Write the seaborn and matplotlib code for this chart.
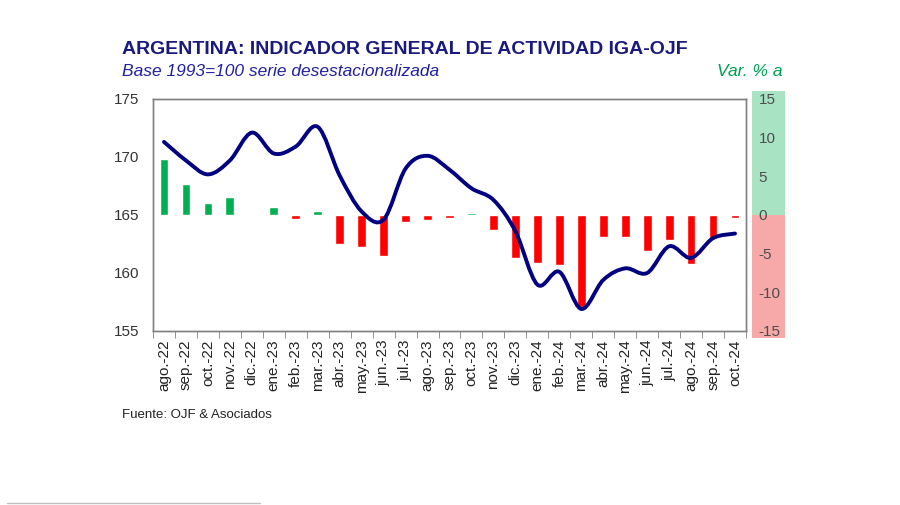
"""IGA-OJF: nivel desestacionalizado (línea) y variación anual (barras)."""

import matplotlib

matplotlib.use("Agg")
import matplotlib.pyplot as plt
import numpy as np
import pandas as pd
import seaborn as sns
from matplotlib.patches import PathPatch, Rectangle
from matplotlib.path import Path

MESES = [
    "ago.-22", "sep.-22", "oct.-22", "nov.-22", "dic.-22", "ene.-23", "feb.-23",
    "mar.-23", "abr.-23", "may.-23", "jun.-23", "jul.-23", "ago.-23", "sep.-23",
    "oct.-23", "nov.-23", "dic.-23", "ene.-24", "feb.-24", "mar.-24", "abr.-24",
    "may.-24", "jun.-24", "jul.-24", "ago.-24", "sep.-24", "oct.-24",
]
IGA = [
    171.3, 169.7, 168.5, 169.7, 172.1, 170.3, 170.9, 172.6, 168.4, 165.3,
    164.6, 169.0, 170.1, 168.9, 167.3, 166.3, 163.6, 159.0, 160.1, 156.9,
    159.4, 160.4, 160.0, 162.3, 161.3, 163.0, 163.4,
]
VAR_ANUAL = [
    7.2, 4.0, 1.6, 2.3, -0.1, 1.0, -0.5, 0.5, -3.8, -4.2, -5.3, -0.9, -0.6,
    -0.4, 0.3, -1.9, -5.6, -6.2, -6.5, -11.9, -2.8, -2.9, -4.6, -3.2, -6.4,
    -3.0, -0.4,
]

VERDE = "#00B050"
ROJO = "#FF0000"
AZUL = "#000080"
GRIS = "#808080"


def _curva_suave(xs, ys):
    """Path Bézier tipo Catmull-Rom (línea suavizada estilo Excel)."""
    pts = np.column_stack([xs, ys]).astype(float)
    ext = np.vstack([pts[0], pts, pts[-1]])
    verts = [pts[0]]
    codes = [Path.MOVETO]
    for i in range(1, len(ext) - 2):
        p0, p1, p2, p3 = ext[i - 1], ext[i], ext[i + 1], ext[i + 2]
        verts += [p1 + (p2 - p0) / 6, p2 - (p3 - p1) / 6, p2]
        codes += [Path.CURVE4] * 3
    return Path(verts, codes)


df = pd.DataFrame({"mes": MESES, "iga": IGA, "var": VAR_ANUAL})
df["signo"] = np.where(df["var"] >= 0, "pos", "neg")

sns.set_style("white")
plt.rcParams["font.family"] = ["Liberation Sans", "DejaVu Sans"]
plt.rcParams["axes.unicode_minus"] = False

fig = plt.figure(figsize=(9, 5.05), dpi=100)

# franja de colores del eje derecho (debajo de todo)
fig.patches.append(Rectangle((0.8356, 0.5743), 0.0367, 0.2455, transform=fig.transFigure,
                             facecolor="#a8e4c4", edgecolor="none", zorder=-5))
fig.patches.append(Rectangle((0.8356, 0.3307), 0.0367, 0.2436, transform=fig.transFigure,
                             facecolor="#f7a8a8", edgecolor="none", zorder=-5))

ax_bar = fig.add_axes([0.17, 0.3446, 0.6589, 0.4594])
ax_bar.patch.set_alpha(0)

sns.barplot(
    data=df, x="mes", y="var", hue="signo", palette={"pos": VERDE, "neg": ROJO},
    dodge=False, legend=False, width=0.4, ax=ax_bar, saturation=1,
)
ax_bar.set_xlim(-0.5, len(MESES) - 0.5)
ax_bar.set_xlabel("")
ax_bar.set_ylabel("")

# línea IGA en eje izquierdo
ax_line = ax_bar.twinx()
ax_line.yaxis.tick_left()
ax_line.set_ylim(155, 175)
ax_line.set_yticks(range(155, 176, 5))
ax_line.tick_params(axis="y", length=0, pad=10, labelsize=11, labelcolor="#333333")
curva = _curva_suave(np.arange(len(df)), df["iga"].to_numpy())
ax_line.add_patch(PathPatch(curva, fill=False, edgecolor=AZUL, lw=2.8, capstyle="round"))

# eje derecho (variación anual) -- después de twinx, que lo resetea
ax_bar.yaxis.tick_right()
ax_bar.set_ylim(-15, 15)
ax_bar.set_yticks(range(-15, 16, 5))
ax_bar.tick_params(axis="y", length=0, pad=9, labelsize=11, labelcolor="#4d4d4d",
                   left=False, labelleft=False, right=False, labelright=True)

# eje x: etiquetas centradas, marcas en los bordes de categoría
ax_bar.set_xticks(range(len(MESES)))
ax_bar.set_xticklabels(MESES, rotation=90, fontsize=11, color="#222222")
ax_bar.tick_params(axis="x", length=0, pad=6)
ax_bar.set_xticks(np.arange(-0.5, len(MESES)), minor=True)
ax_bar.tick_params(axis="x", which="minor", length=5, color=GRIS, bottom=True)

for ax in (ax_bar, ax_line):
    for sp in ax.spines.values():
        sp.set_color(GRIS)
        sp.set_linewidth(1.0)

# textos
fig.text(0.1356, 0.893, "ARGENTINA: INDICADOR GENERAL DE ACTIVIDAD IGA-OJF",
         fontsize=14, fontweight="bold", color="#1a1a7e", va="baseline")
fig.text(0.1356, 0.8495, "Base 1993=100 serie desestacionalizada", fontsize=12.5,
         style="italic", color="#2020a0", va="baseline")
fig.text(0.869, 0.8495, "Var. % a", fontsize=12.5, style="italic", color="#00a050",
         va="baseline", ha="right")
fig.text(0.1356, 0.172, "Fuente: OJF & Asociados", fontsize=9.5, color="#222222", va="baseline")
fig.add_artist(plt.Line2D([0.008, 0.289], [0.003, 0.003], color="#c0c0c0", lw=1,
                          transform=fig.transFigure))

fig.savefig("out.png", dpi=100)
